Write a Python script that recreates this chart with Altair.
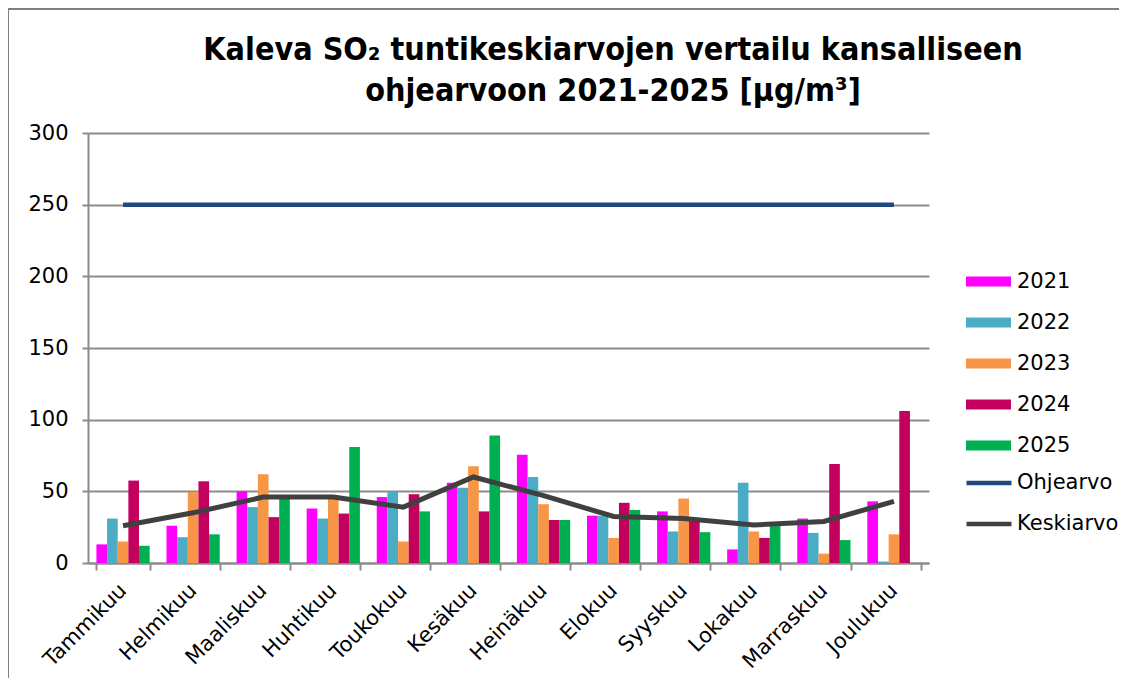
import altair as alt
import pandas as pd

months = ["Tammikuu", "Helmikuu", "Maaliskuu", "Huhtikuu", "Toukokuu", "Kesäkuu",
          "Heinäkuu", "Elokuu", "Syyskuu", "Lokakuu", "Marraskuu", "Joulukuu"]
years = ["2021", "2022", "2023", "2024", "2025"]

v2021 = [13, 26, 50, 38, 46, 56, 75.5, 33, 36, 9.5, 31, 43]
v2022 = [31, 18, 39, 31, 49.5, 52.5, 60, 33, 22, 56, 21, 1]
v2023 = [15, 49.5, 62, 46, 15, 67.5, 41, 17.5, 45, 22, 6.5, 20]
v2024 = [57.5, 57, 32, 34.5, 48, 36, 30, 42, 31, 17.5, 69, 106]
v2025 = [12, 20, 47, 81, 36, 89, 30, 37, 21.5, 27, 16, None]
ohjearvo = [250, 250, 250, 250, 250, 250, 250, 250, 250, 250, 250, 250]
keskiarvo = [26, 35, 46, 46, 39, 60, 47, 32.5, 31, 26.5, 29, 43]

title_lines = ["Kaleva SO₂ tuntikeskiarvojen vertailu kansalliseen",
               "ohjearvoon 2021-2025 [µg/m³]"]

year_colors = ["#FF00FF", "#4BACC6", "#F79646", "#C4005E", "#00B050"]
line_names = ["Ohjearvo", "Keskiarvo"]
line_colors = ["#1F497D", "#404040"]

rows = []
for y, vals in zip(years, [v2021, v2022, v2023, v2024, v2025]):
    for m, v in zip(months, vals):
        if v is not None:
            rows.append({"month": m, "year": y, "value": v})
bars_df = pd.DataFrame(rows)

lrows = []
for name, vals in zip(line_names, [ohjearvo, keskiarvo]):
    for m, v in zip(months, vals):
        lrows.append({"month": m, "series": name, "value": v})
lines_df = pd.DataFrame(lrows)

FONT = "DejaVu Sans"
GRID = "#8C8C8C"

xscale = alt.Scale(paddingInner=0.24, paddingOuter=0.12)
yscale = alt.Scale(domain=[0, 300], nice=False)

x_axis = alt.Axis(title=None, labelAngle=315, labelFontSize=21, labelFont=FONT,
                  labelColor="#000000", labelPadding=17, tickBand="extent",
                  tickSize=7, tickColor=GRID, tickWidth=2, domainColor=GRID,
                  domainWidth=2, grid=False, labelAlign="right", labelBaseline="middle")
y_axis = alt.Axis(title=None, values=[0, 50, 100, 150, 200, 250, 300],
                  labelFontSize=21, labelFont=FONT, labelColor="#000000",
                  labelPadding=14, tickSize=6, tickColor=GRID, tickWidth=2,
                  domainColor=GRID, domainWidth=2, grid=True, gridColor=GRID,
                  gridWidth=2)

bars = alt.Chart(bars_df).mark_bar().encode(
    x=alt.X("month:N", sort=months, scale=xscale, axis=x_axis),
    xOffset=alt.XOffset("year:N", sort=years, scale=alt.Scale(paddingInner=0, paddingOuter=0)),
    y=alt.Y("value:Q", scale=yscale, axis=y_axis),
    fill=alt.Fill("year:N", sort=years,
                  scale=alt.Scale(domain=years, range=year_colors),
                  legend=alt.Legend(title=None, orient="none", legendX=878, legendY=126,
                                    symbolType="M-1,-0.22H1V0.22H-1Z", symbolSize=2025,
                                    symbolStrokeWidth=0, labelFontSize=21, labelFont=FONT,
                                    labelColor="#000000", labelOffset=6, rowPadding=8)),
)

lines = alt.Chart(lines_df).mark_line().encode(
    x=alt.X("month:N", sort=months, scale=xscale, bandPosition=0.5),
    y=alt.Y("value:Q", scale=yscale),
    stroke=alt.Stroke("series:N", sort=line_names,
                      scale=alt.Scale(domain=line_names, range=line_colors),
                      legend=alt.Legend(title=None, orient="none", legendX=876, legendY=325,
                                        symbolType="stroke", symbolSize=2025,
                                        symbolStrokeWidth=4.5, labelFontSize=21, labelFont=FONT,
                                        labelColor="#000000", labelOffset=3, rowPadding=6)),
    strokeWidth=alt.StrokeWidth("series:N", scale=alt.Scale(domain=line_names, range=[4.5, 5]),
                                legend=None),
    detail="series:N",
)

title_df = pd.DataFrame({"t": ["\n".join(title_lines)]})
title = alt.Chart(title_df).mark_text(
    font="DejaVu Sans Condensed", fontSize=32, fontWeight="bold", color="#000000",
    align="center", baseline="alphabetic", lineBreak="\n", lineHeight=41,
).encode(x=alt.value(525), y=alt.value(-73), text="t:N")

frame_df = pd.DataFrame({"k": [0]})
top_rule = alt.Chart(frame_df).mark_rule(color="#808080", strokeWidth=2).encode(
    x=alt.value(-80), x2=alt.value(1060), y=alt.value(-124))
left_rule = alt.Chart(frame_df).mark_rule(color="#808080", strokeWidth=2).encode(
    x=alt.value(-80), y=alt.value(-124), y2=alt.value(570))

chart = alt.layer(bars, lines, title, top_rule, left_rule).resolve_scale(
    fill="independent", stroke="independent"
).properties(
    width=841, height=430,
    autosize=alt.AutoSizeParams(type="none"),
    padding={"left": 80, "top": 125, "right": 190, "bottom": 115},
).configure(background="#FFFFFF").configure_view(stroke=None)

chart.save("out.html", embed_options={"renderer": "svg", "actions": False})
